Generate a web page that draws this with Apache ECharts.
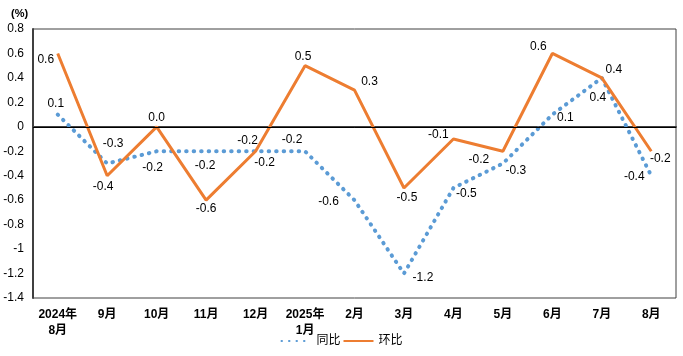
<!DOCTYPE html>
<html><head><meta charset="utf-8">
<script src="https://cdn.jsdelivr.net/npm/echarts@6/dist/echarts.min.js"></script>
<style>html,body{margin:0;padding:0;background:#fff}#c{width:683px;height:356px}</style>
</head><body><div id="c"></div>
<script>
const categories = ['2024年\n8月','9月','10月','11月','12月','2025年\n1月','2月','3月','4月','5月','6月','7月','8月'];
const yoy = [0.1,-0.3,-0.2,-0.2,-0.2,-0.2,-0.6,-1.2,-0.5,-0.3,0.1,0.4,-0.4];
const mom = [0.6,-0.4,0.0,-0.6,-0.2,0.5,0.3,-0.5,-0.1,-0.2,0.6,0.4,-0.2];
const yAxisMin = -1.4, yAxisMax = 0.8, yAxisStep = 0.2;

// label placement relative to each point (style config, pixels)
const yoyLabelShift = [[-2,-11],[6,-20],[-4,16],[-1,14],[9,11],[-13,-12],[-26,2],[19,4],[13,6],[13,7],[13,3],[-4,20],[-17,1]];
const momLabelShift = [[-12,6],[-4,11],[0,-9],[0,9],[-8,-11],[-2,-9],[15,-8],[3,10],[-15,-4],[-24,8],[-14,-7],[12,-8],[9,7]];

const fontFam = "'Liberation Sans','Noto Sans CJK SC',sans-serif";
function fmt(v){ const r=Math.round(v*10)/10; return r.toFixed(1); }
function mk(vals, shift){
  return vals.map((v,i)=>({value:v,label:{show:true,position:[shift[i][0]+1,shift[i][1]+1],align:'center',verticalAlign:'middle'}}));
}
const chart = echarts.init(document.getElementById('c'));
chart.setOption({
  animation:false,
  textStyle:{fontFamily:fontFam},
  graphic:[{type:'text',left:11,top:8,style:{text:'(%)',font:"bold 11px "+fontFam,fill:'#000'}}],
  grid:{left:33,right:7,top:29,bottom:58,show:true,borderColor:'#404040',borderWidth:1,backgroundColor:'transparent'},
  legend:{bottom:4,left:'center',itemWidth:30,itemHeight:10,itemGap:2,
    textStyle:{fontSize:12,color:'#000',fontFamily:fontFam},
    data:['同比','环比']},
  xAxis:{type:'category',data:categories,boundaryGap:true,
    axisLine:{lineStyle:{color:'#404040',width:2}},axisTick:{show:false},
    axisLabel:{fontSize:12,fontWeight:'bold',color:'#000',margin:9,lineHeight:16,interval:0,fontFamily:fontFam}},
  yAxis:{type:'value',min:yAxisMin,max:yAxisMax,interval:yAxisStep,
    axisLine:{show:true,lineStyle:{color:'#404040',width:2}},axisTick:{show:false},
    splitLine:{show:false},
    axisLabel:{fontSize:12,color:'#000',margin:9,fontFamily:fontFam,
      formatter:v=>{const r=Math.round(v*10)/10;return r===0?'0':String(r);}}},
  series:[
    {name:'同比',type:'line',data:mk(yoy,yoyLabelShift),symbol:'circle',symbolSize:2,showSymbol:true,
      lineStyle:{color:'#5B9BD5',width:4,type:[0.5,7],cap:'round'},itemStyle:{color:'rgba(0,0,0,0)'},
      label:{show:true,fontSize:12,color:'#000',formatter:p=>fmt(p.value)},
      labelLayout:{hideOverlap:false},
      markLine:{silent:true,symbol:'none',label:{show:false},lineStyle:{color:'#000',width:1,type:'solid'},data:[{yAxis:0}]},
      z:2},
    {name:'环比',type:'line',data:mk(mom,momLabelShift),symbol:'circle',symbolSize:2,showSymbol:true,
      lineStyle:{color:'#ED7D31',width:3},itemStyle:{color:'rgba(0,0,0,0)'},
      label:{show:true,fontSize:12,color:'#000',formatter:p=>fmt(p.value)},
      labelLayout:{hideOverlap:false},z:3}
  ]
});
</script></body></html>
